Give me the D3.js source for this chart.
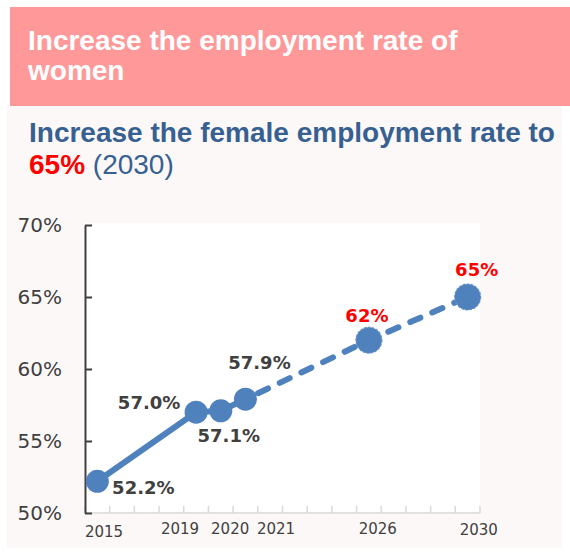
<!DOCTYPE html>
<html>
<head>
<meta charset="utf-8">
<script src="https://cdn.jsdelivr.net/npm/d3@7"></script>
<style>
  html, body { margin: 0; padding: 0; background: #ffffff; }
  svg { display: block; }
</style>
</head>
<body>
<div id="chart"></div>
<script>
// ---------- data ----------
const categories = [2015, 2016, 2017, 2018, 2019, 2020, 2021, 2022, 2023, 2024, 2025, 2026, 2027, 2028, 2029, 2030];
const pointYears = [2015, 2019, 2020, 2021, 2026, 2030];
const rates      = [52.2, 57.0, 57.1, 57.9, 62, 65];
const rateLabels = ["52.2%", "57.0%", "57.1%", "57.9%", "62%", "65%"];
const isTarget   = [false, false, false, false, true, true];
const yTicks     = [50, 55, 60, 65, 70];
const xTickLabels = ["2015", "2019", "2020", "2021", "2026", "2030"];
const headerLines = ["Increase the employment rate of", "women"];
const subtitleLine1 = "Increase the female employment rate to";
const subtitleTarget = "65%";
const subtitleYear = " (2030)";

// ---------- layout (not data) ----------
const W = 570, H = 552;
const plot = { left: 85, right: 480, top: 225, bottom: 513 };
const tickLabelShift = [0.27, -0.65, 0.38, 1.24, 0.36, 0.45];   // in band widths
const tickLabelDy    = [3, 0, 0, 0, 0, 1];
const labelOffsets = [ [46, 13], [-47, -3], [8, 31], [14, -30], [-2, -18], [9, -21] ];

const BLUE = "#4F81BD", GREY = "#404040", RED = "#FF0000";

const svg = d3.select("#chart").append("svg").attr("width", W).attr("height", H);

// backgrounds
svg.append("rect").attr("x", 0).attr("y", 0).attr("width", W).attr("height", H).attr("fill", "#ffffff");
svg.append("rect").attr("x", 7).attr("y", 106).attr("width", 555).attr("height", 442).attr("fill", "#FDF8F8");
svg.append("rect").attr("x", 10).attr("y", 7).attr("width", 560).attr("height", 99).attr("fill", "#FF9999");

// header text
svg.append("g").selectAll("text").data(headerLines).join("text")
  .attr("x", 28).attr("y", (d, i) => 50 + i * 30)
  .attr("font-family", "'Liberation Sans', Arial, sans-serif")
  .attr("font-weight", "bold").attr("font-size", 28).attr("fill", "#ffffff")
  .text(d => d);

// subtitle
svg.append("text").attr("x", 29).attr("y", 142)
  .attr("font-family", "'Liberation Sans', Arial, sans-serif")
  .attr("font-weight", "bold").attr("font-size", 28).attr("fill", "#376092")
  .text(subtitleLine1);
const sub2 = svg.append("text").attr("x", 29).attr("y", 174)
  .attr("font-family", "'Liberation Sans', Arial, sans-serif").attr("font-size", 28);
sub2.append("tspan").attr("font-weight", "bold").attr("fill", RED).text(subtitleTarget);
sub2.append("tspan").attr("fill", "#376092").text(subtitleYear);

// plot area
svg.append("rect").attr("x", plot.left).attr("y", plot.top - 2)
  .attr("width", plot.right - plot.left).attr("height", plot.bottom - plot.top + 2).attr("fill", "#ffffff");

// scales
const x = d3.scaleBand().domain(categories).range([plot.left, plot.right]);
const y = d3.scaleLinear().domain([50, 70]).range([plot.bottom, plot.top]);
const cx = yr => x(yr) + x.bandwidth() / 2;

// x axis (category boundaries)
const xg = svg.append("g");
xg.append("line").attr("x1", plot.left).attr("x2", plot.right)
  .attr("y1", plot.bottom).attr("y2", plot.bottom)
  .attr("stroke", "#D9D9D9").attr("stroke-width", 1.5);
const bounds = categories.map(c => x(c)).concat([x.range()[1]]);
xg.selectAll("line.tick").data(bounds).join("line").attr("class", "tick")
  .attr("x1", d => d).attr("x2", d => d)
  .attr("y1", plot.bottom).attr("y2", plot.bottom - 7)
  .attr("stroke", "#D9D9D9").attr("stroke-width", 1.5);
xg.selectAll("text").data(xTickLabels).join("text")
  .attr("x", (d, i) => cx(+d) + tickLabelShift[i] * x.bandwidth())
  .attr("y", (d, i) => plot.bottom + 21 + tickLabelDy[i])
  .attr("text-anchor", "middle")
  .attr("font-family", "'DejaVu Sans', Verdana, sans-serif")
  .attr("font-size", 15).attr("fill", GREY)
  .text(d => d);

// y axis
const yAxis = d3.axisLeft(y).tickValues(yTicks).tickFormat(d => d + "%")
  .tickSizeInner(-7).tickSizeOuter(0).tickPadding(23);
const yg = svg.append("g").attr("transform", `translate(${plot.left},0)`).call(yAxis);
yg.select(".domain").attr("stroke", GREY).attr("stroke-width", 2);
yg.selectAll(".tick line").attr("stroke", GREY).attr("stroke-width", 2);
yg.selectAll(".tick text").attr("font-family", "'DejaVu Sans', Verdana, sans-serif")
  .attr("font-size", 20).attr("fill", GREY);

// lines
const pts = pointYears.map((yr, i) => ({ yr, v: rates[i], label: rateLabels[i], target: isTarget[i], i }));
const line = d3.line().x(d => cx(d.yr)).y(d => y(d.v));
const actual = pts.filter(d => !d.target);
const lastActual = actual[actual.length - 1];
const forecast = [lastActual].concat(pts.filter(d => d.target));

svg.append("path").attr("d", line(actual)).attr("fill", "none")
  .attr("stroke", BLUE).attr("stroke-width", 6).attr("stroke-linejoin", "round");
svg.append("path").attr("d", line(forecast)).attr("fill", "none")
  .attr("stroke", BLUE).attr("stroke-width", 6).attr("stroke-linecap", "round")
  .attr("stroke-dasharray", "11,13").attr("stroke-dashoffset", -14);

// markers
svg.append("g").selectAll("circle").data(pts).join("circle")
  .attr("cx", d => cx(d.yr)).attr("cy", d => y(d.v))
  .attr("r", d => d.target ? 13 : 11.5)
  .attr("fill", BLUE)
  .attr("stroke", d => d.target ? "#6A93C8" : "none")
  .attr("stroke-width", 1.2)
  .attr("stroke-dasharray", d => d.target ? "2.5,1.5" : null);

// data labels
svg.append("g").selectAll("text").data(pts).join("text")
  .attr("x", d => cx(d.yr) + labelOffsets[d.i][0])
  .attr("y", d => y(d.v) + labelOffsets[d.i][1])
  .attr("text-anchor", "middle")
  .attr("font-family", "'DejaVu Sans', Verdana, sans-serif")
  .attr("font-weight", "bold").attr("font-size", 18)
  .attr("fill", d => d.target ? RED : GREY)
  .text(d => d.label);
</script>
</body>
</html>
